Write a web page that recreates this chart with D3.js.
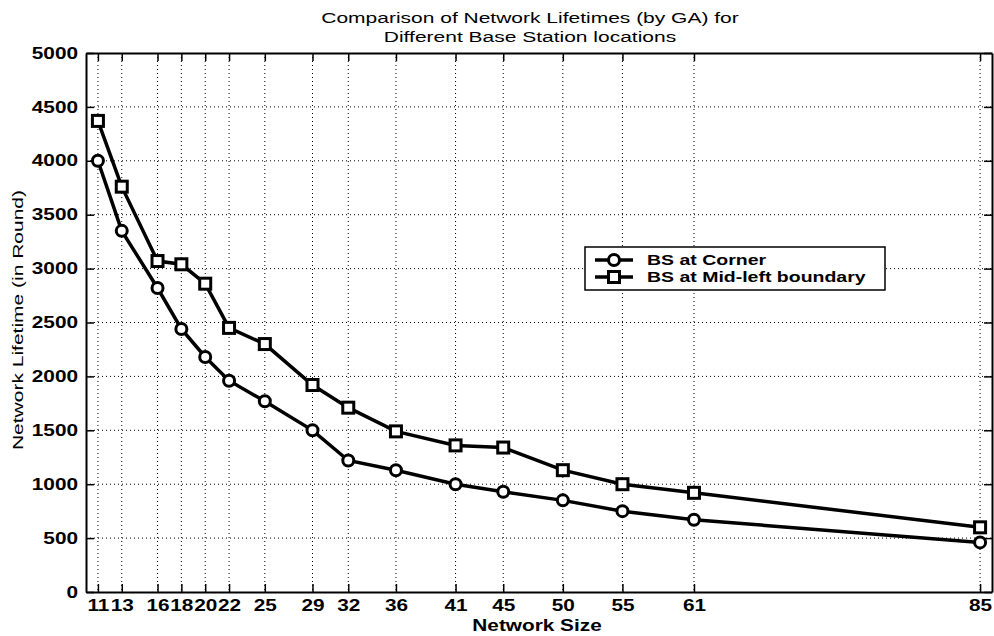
<!DOCTYPE html>
<html>
<head>
<meta charset="utf-8">
<script src="https://cdn.jsdelivr.net/npm/d3@7"></script>
<style>
  body { margin: 0; background: #fff; }
  svg { font-family: "Liberation Sans", Arial, sans-serif; }
</style>
</head>
<body>
<div id="chart-holder"></div>
<script>
const networkSize = [11, 13, 16, 18, 20, 22, 25, 29, 32, 36, 41, 45, 50, 55, 61, 85];
const bsCorner = [4000, 3350, 2820, 2440, 2180, 1960, 1770, 1500, 1220, 1130, 1000, 930, 850, 750, 670, 460];
const bsMidLeft = [4370, 3760, 3070, 3040, 2860, 2450, 2300, 1920, 1710, 1490, 1360, 1340, 1130, 1000, 920, 600];
const yTicks = [0, 500, 1000, 1500, 2000, 2500, 3000, 3500, 4000, 4500, 5000];
const seriesNames = ["BS at Corner", "BS at Mid-left boundary"];

const width = 994;
const height = 636;
const marginTop = 53;
const marginRight = 2;
const marginBottom = 44;
const marginLeft = 86;
// the scanned figure has its text stretched sideways
const stretch = 1.3;

const x = d3.scaleLinear().domain([10, 86]).range([marginLeft, width - marginRight]);
const y = d3.scaleLinear().domain([0, 5000]).range([height - marginBottom, marginTop]);

const svg = d3.select("#chart-holder").append("svg")
  .attr("width", width)
  .attr("height", height);

// grid
const grid = svg.append("g")
  .attr("stroke", "#000")
  .attr("stroke-width", 1)
  .attr("stroke-dasharray", "1,3");
grid.selectAll("line.vx")
  .data(networkSize)
  .join("line")
  .attr("class", "vx")
  .attr("x1", d => x(d)).attr("x2", d => x(d))
  .attr("y1", marginTop).attr("y2", height - marginBottom);
grid.selectAll("line.hy")
  .data(yTicks.slice(1, -1))
  .join("line")
  .attr("class", "hy")
  .attr("x1", marginLeft).attr("x2", width - marginRight)
  .attr("y1", d => y(d)).attr("y2", d => y(d));

// axes (matlab box style, inward ticks)
const xAxis = svg.append("g")
  .attr("transform", `translate(0,${height - marginBottom})`)
  .call(d3.axisBottom(x).tickValues(networkSize).tickSizeInner(-8).tickSizeOuter(0).tickPadding(8));
const xTop = svg.append("g")
  .attr("transform", `translate(0,${marginTop})`)
  .call(d3.axisTop(x).tickValues(networkSize).tickSizeInner(-8).tickSizeOuter(0).tickFormat(""));
const yAxis = svg.append("g")
  .attr("transform", `translate(${marginLeft},0)`)
  .call(d3.axisLeft(y).tickValues(yTicks).tickFormat(d3.format("d")).tickSizeInner(-8).tickSizeOuter(0).tickPadding(8));
const yRight = svg.append("g")
  .attr("transform", `translate(${width - marginRight},0)`)
  .call(d3.axisRight(y).tickValues(yTicks).tickSizeInner(-8).tickSizeOuter(0).tickFormat(""));

[xAxis, xTop, yAxis, yRight].forEach(g => {
  g.select(".domain").attr("stroke", "#000").attr("stroke-width", 2);
  g.selectAll(".tick line").attr("stroke", "#000").attr("stroke-width", 1.5);
  g.selectAll(".tick text")
    .attr("fill", "#000")
    .style("font-size", "16px")
    .style("font-weight", "bold")
    .attr("transform", `scale(${stretch},1)`);
});
yAxis.selectAll(".tick text").attr("x", -8 / stretch);

// lines
const line = (vals) => d3.line()
  .x((d, i) => x(networkSize[i]))
  .y(d => y(d))(vals);

svg.append("path")
  .attr("d", line(bsMidLeft))
  .attr("fill", "none").attr("stroke", "#000").attr("stroke-width", 3.5);
svg.append("path")
  .attr("d", line(bsCorner))
  .attr("fill", "none").attr("stroke", "#000").attr("stroke-width", 3.5);

// markers
svg.selectAll("circle.corner")
  .data(bsCorner)
  .join("circle")
  .attr("class", "corner")
  .attr("cx", (d, i) => x(networkSize[i]))
  .attr("cy", d => y(d))
  .attr("r", 5.5)
  .attr("fill", "#fff")
  .attr("stroke", "#000")
  .attr("stroke-width", 3);

svg.selectAll("rect.mid")
  .data(bsMidLeft)
  .join("rect")
  .attr("class", "mid")
  .attr("x", (d, i) => x(networkSize[i]) - 5.5)
  .attr("y", d => y(d) - 5.5)
  .attr("width", 11)
  .attr("height", 11)
  .attr("fill", "#fff")
  .attr("stroke", "#000")
  .attr("stroke-width", 3);

// title
const titleLines = ["Comparison of Network Lifetimes (by GA) for", "Different Base Station locations"];
titleLines.forEach((t, i) => {
  svg.append("text")
    .attr("transform", `translate(530,${23 + i * 19}) scale(1.4,1)`)
    .attr("text-anchor", "middle")
    .style("font-size", "15px")
    .text(t);
});

// axis labels
svg.append("text")
  .attr("transform", `translate(537,631) scale(${stretch},1)`)
  .attr("text-anchor", "middle")
  .style("font-size", "16px")
  .style("font-weight", "bold")
  .text("Network Size");
svg.append("text")
  .attr("transform", "translate(23,320) rotate(-90) scale(1.4,1)")
  .attr("text-anchor", "middle")
  .style("font-size", "15px")
  .text("Network Lifetime (in Round)");

// legend
const legend = svg.append("g").attr("transform", "translate(585,247)");
legend.append("rect")
  .attr("width", 300).attr("height", 43)
  .attr("fill", "#fff").attr("stroke", "#000").attr("stroke-width", 1.5);
seriesNames.forEach((name, i) => {
  const ly = 13 + i * 17;
  legend.append("line")
    .attr("x1", 10).attr("x2", 48).attr("y1", ly).attr("y2", ly)
    .attr("stroke", "#000").attr("stroke-width", 3.5);
  if (i === 0) {
    legend.append("circle").attr("cx", 29).attr("cy", ly).attr("r", 5.5)
      .attr("fill", "#fff").attr("stroke", "#000").attr("stroke-width", 3);
  } else {
    legend.append("rect").attr("x", 23.5).attr("y", ly - 5.5).attr("width", 11).attr("height", 11)
      .attr("fill", "#fff").attr("stroke", "#000").attr("stroke-width", 3);
  }
  legend.append("text")
    .attr("transform", `translate(62,${ly}) scale(${stretch},1)`)
    .attr("dy", "0.36em")
    .style("font-size", "15px")
    .style("font-weight", "bold")
    .text(name);
});
</script>
</body>
</html>
